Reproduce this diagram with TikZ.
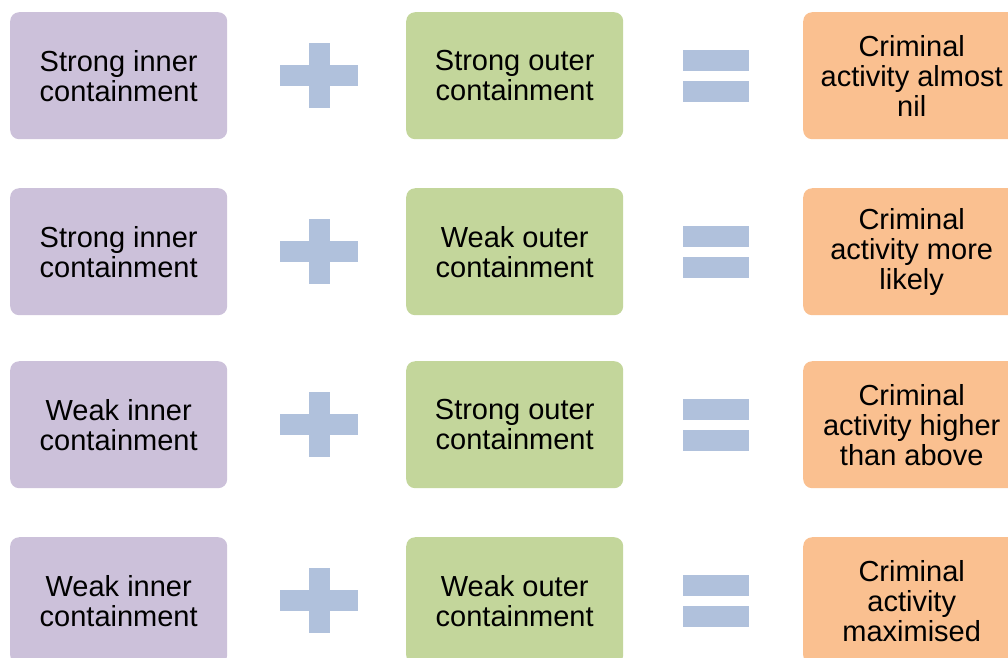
\documentclass[tikz,border=0pt]{standalone}
\usepackage{fontspec}
\setmainfont{Liberation Sans}
\definecolor{innerfill}{HTML}{CCC1DA}
\definecolor{outerfill}{HTML}{C3D69B}
\definecolor{resultfill}{HTML}{FAC090}
\definecolor{signfill}{HTML}{B0C1DC}
\begin{document}
\begin{tikzpicture}[x=1pt,y=-1pt,
  box/.style={rounded corners=9pt, minimum width=217pt, minimum height=127pt,
    inner sep=0pt, align=center, anchor=north west,
    font=\fontsize{29}{30}\selectfont},
  innerbox/.style={box, fill=innerfill},
  outerbox/.style={box, fill=outerfill},
  resultbox/.style={box, fill=resultfill},
  plussign/.pic={
    \fill[signfill] (-39,-10.5) rectangle (39,10.5);
    \fill[signfill] (-10.5,-32.5) rectangle (10.5,32.5);
  },
  equalsign/.pic={
    \fill[signfill] (-33,-26) rectangle (33,-5);
    \fill[signfill] (-33,5) rectangle (33,26);
  }
]
\useasboundingbox (0,0) rectangle (1008,657);
\clip (0,0) rectangle (1008,657);

% row 1
\node[innerbox]  (in1)  at (10,12)  {Strong inner\\containment};
\node[outerbox]  (out1) at (406,12) {Strong outer\\containment};
\node[resultbox] (res1) at (803,12) {Criminal\\activity almost\\nil};
\pic at (319,75.5) {plussign};
\pic at (716,75.5) {equalsign};

% row 2
\node[innerbox]  (in2)  at (10,188)  {Strong inner\\containment};
\node[outerbox]  (out2) at (406,188) {Weak outer\\containment};
\node[resultbox] (res2) at (803,188) {Criminal\\activity more\\likely};
\pic at (319,251.5) {plussign};
\pic at (716,251.5) {equalsign};

% row 3
\node[innerbox]  (in3)  at (10,361)  {Weak inner\\containment};
\node[outerbox]  (out3) at (406,361) {Strong outer\\containment};
\node[resultbox] (res3) at (803,361) {Criminal\\activity higher\\than above};
\pic at (319,424.5) {plussign};
\pic at (716,424.5) {equalsign};

% row 4
\node[innerbox]  (in4)  at (10,537)  {Weak inner\\containment};
\node[outerbox]  (out4) at (406,537) {Weak outer\\containment};
\node[resultbox] (res4) at (803,537) {Criminal\\activity\\maximised};
\pic at (319,600.5) {plussign};
\pic at (716,600.5) {equalsign};
\end{tikzpicture}
\end{document}
